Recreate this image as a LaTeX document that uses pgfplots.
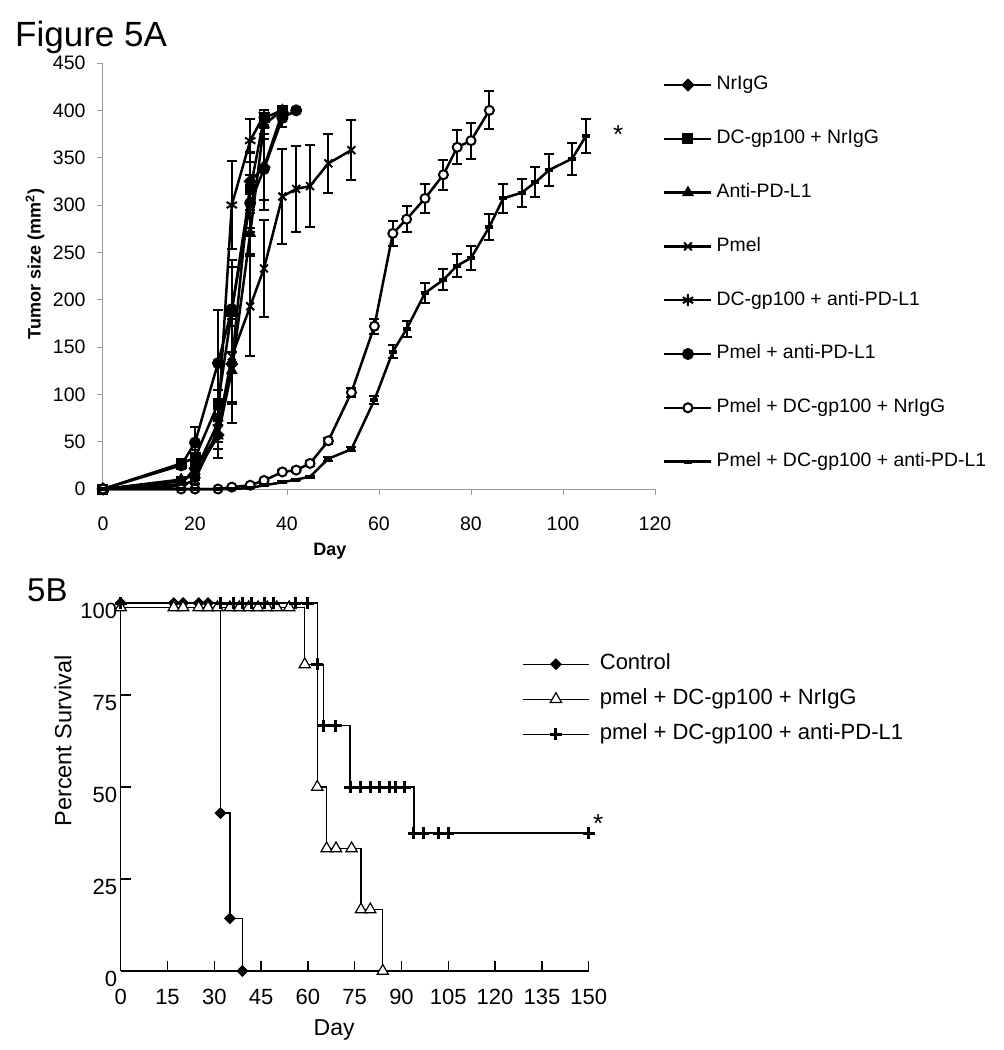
\documentclass[border=0pt]{standalone}
\usepackage{fontspec}
\setmainfont{Liberation Sans}
\usepackage{pgfplots}
\usepackage{pgfplotstable}
\pgfplotsset{compat=1.18}

\newcommand{\fs}[1]{\fontsize{#1}{#1}\selectfont}

% tumour growth, x = day, y = mean size (mm^2), e = error
\pgfplotstableread{
x y e
0 0 0
17 5 2
20 22 6
25 57 15
28 132 40
32 325 30
35 340 35
39 398 5
}\tNrigg
\pgfplotstableread{
x y e
0 0 0
17 27 3
20 33 8
25 90 15
28 188 54
32 316 40
35 392 8
39 400 3
}\tDcNrigg
\pgfplotstableread{
x y e
0 0 0
17 10 3
20 15 5
25 56 23
28 125 55
32 270 22
35 385 15
39 400 5
}\tAnti
\pgfplotstableread{
x y e
0 0 0
17 3 2
20 10 5
25 62 12
28 140 50
32 193 53
35 233 51
39 309 50
42 317 45
45 320 43
49 344 31
54 358 32
}\tPmel
\pgfplotstableread{
x y e
0 0 0
17 8 3
20 18 6
25 70 15
28 300 46
32 368 23
35 395 5
}\tDcAnti
\pgfplotstableread{
x y e
0 0 0
17 25 4
20 49 17
25 133 56
28 190 45
32 302 30
35 338 43
39 392 10
42 400 3
}\tPmelAnti
\pgfplotstableread{
x y e
0 0 0
17 0 1
20 0 1
25 0 1
28 2 1
32 4 1
35 9 2
39 18 2
42 20 2
45 27 3
49 51 3
54 102 5
59 172 8
63 270 13
66 285 14
70 307 15
74 332 16
77 361 18
80 368 19
84 400 20
}\tPmelDcNrigg
\pgfplotstableread{
x y e
0 0 0
17 0 0
20 0 0
25 0 0
28 0 0
32 1 0
35 4 1
39 7 1
42 10 1
45 13 1
49 32 2
54 42 2
59 94 4
63 145 7
66 169 8.5
70 207 10.5
74 221 11
77 236 12
80 244 13
84 277 14
87 307 15
91 313 15
94 324 16
97 337 16.5
102 349 17
105 373 18
}\tPmelDcAnti

% survival, x = day, y = percent
\pgfplotstableread{
x y
0 100
17 100
20 100
25 100
28 100
32 42.9
35 14.3
39 0
}\sControl
\pgfplotstableread{
x y
0 98.8
17 98.8
20 98.8
25 98.8
28 98.8
31 98.8
35 98.8
38 98.8
41 98.8
44 98.8
47 98.8
50 98.8
54 98.8
59 83.3
63 50
66 33.3
69 33.3
74 33.3
77 16.7
80 16.7
84 0
}\sNrigg
\pgfplotstableread{
x y
0 100
32 100
36 100
39 100
42 100
46 100
49 100
56 100
60 100
63 83.3
65 66.7
69 66.7
73.5 50
77 50
80 50
83 50
86 50
88 50
91 50
94 37.5
97 37.5
102 37.5
105 37.5
150 37.5
}\sAnti

\begin{document}
\begin{tikzpicture}[x=1pt,y=1pt]
\path[use as bounding box] (0,0) rectangle (1004,-1050);
\node[anchor=base west, inner sep=0pt, font=\fs{35}] at (15,-46.5) {Figure 5A};
\node[anchor=base west, inner sep=0pt, font=\fs{33}] at (27,-601.5) {5B};

\begin{axis}[
  scale only axis, width=552pt, height=426pt,
  at={(103pt,-489pt)}, anchor=south west,
  xmin=0, xmax=120, ymin=0, ymax=450,
  axis x line*=bottom, axis y line*=left,
  axis line style={draw=black!40, line width=1pt},
  xtick={0,20,...,120}, ytick={0,50,...,450},
  tick align=outside, major tick length=6pt,
  tick style={draw=black!40, line width=1pt},
  ticklabel style={font=\fs{19.5}, black},
  xticklabel style={yshift=-18pt},
  yticklabel style={xshift=-8pt},
  /pgf/number format/assume math mode=true,
  clip=false,
  xlabel={\textbf{Day}},
  xlabel style={font=\fs{18}, at={(axis description cs:0.4112,-0.1455)}, anchor=center},
  ylabel={\textbf{Tumor size (mm\textsuperscript{2})}},
  ylabel style={font=\fs{18}, at={(axis description cs:-0.1232,0.528)}, anchor=center},
  every axis plot/.append style={black, line width=2.5pt},
  error bars/error bar style={line width=2pt, solid},
  error bars/error mark options={rotate=90, line width=2pt, mark size=5pt},
  legend style={at={(1.0145,0.97)}, anchor=north west, draw=none, fill=none,
    font=\fs{19.4}, row sep=35.8pt, inner sep=0pt,
    nodes={inner sep=0pt, inner xsep=4pt, text height=14pt, text depth=4pt},
    cells={anchor=west}},
  legend image code/.code={\draw[mark repeat=2,mark phase=2] plot coordinates {(0pt,0pt)(23.5pt,0pt)(47pt,0pt)};},
]
\addplot[black, mark=square*, mark size=4.2pt, mark options={rotate=45, line width=1pt, fill=black},
  error bars/.cd, y dir=both, y explicit] table[x=x, y=y, y error=e] {\tNrigg};
\addlegendentry{NrIgG}
\addplot[black, mark=square*, mark size=5pt, mark options={line width=1pt, fill=black},
  error bars/.cd, y dir=both, y explicit] table[x=x, y=y, y error=e] {\tDcNrigg};
\addlegendentry{DC-gp100 + NrIgG}
\addplot[black, mark=triangle*, mark size=6pt, mark options={line width=1pt, fill=black},
  error bars/.cd, y dir=both, y explicit] table[x=x, y=y, y error=e] {\tAnti};
\addlegendentry{Anti-PD-L1}
\addplot[black, mark=x, mark size=5.5pt, mark options={line width=2pt},
  error bars/.cd, y dir=both, y explicit] table[x=x, y=y, y error=e] {\tPmel};
\addlegendentry{Pmel}
\addplot[black, mark=asterisk, mark size=6pt, mark options={line width=2pt},
  error bars/.cd, y dir=both, y explicit] table[x=x, y=y, y error=e] {\tDcAnti};
\addlegendentry{DC-gp100 + anti-PD-L1}
\addplot[black, mark=*, mark size=5.5pt, mark options={line width=1pt, fill=black},
  error bars/.cd, y dir=both, y explicit] table[x=x, y=y, y error=e] {\tPmelAnti};
\addlegendentry{Pmel + anti-PD-L1}
\addplot[black, mark=*, mark size=4.5pt, mark options={line width=2pt, fill=white},
  error bars/.cd, y dir=both, y explicit] table[x=x, y=y, y error=e] {\tPmelDcNrigg};
\addlegendentry{Pmel + DC-gp100 + NrIgG}
\addplot[black, mark=-, mark size=4pt, mark options={line width=4pt},
  error bars/.cd, y dir=both, y explicit] table[x=x, y=y, y error=e] {\tPmelDcAnti};
\addlegendentry{Pmel + DC-gp100 + anti-PD-L1}
\node[anchor=base, inner sep=0pt, font=\fs{26}] at (axis cs:112,365) {*};
\end{axis}

\begin{axis}[
  scale only axis, width=468pt, height=368pt,
  at={(120.7pt,-971pt)}, anchor=south west,
  xmin=0, xmax=150, ymin=0, ymax=100,
  axis x line*=bottom, axis y line*=left,
  axis line style={line width=1.3pt},
  xtick={0,15,...,150}, ytick={0,25,...,100},
  tick align=inside, major tick length=10pt,
  tick style={draw=black, line width=1.3pt},
  ticklabel style={font=\fs{22}},
  xticklabel style={yshift=-15pt},
  yticklabel style={yshift=-8pt},
  /pgf/number format/assume math mode=true,
  clip=false,
  xlabel={Day},
  xlabel style={font=\fs{23}, at={(axis description cs:0.456,-0.1603)}, anchor=center},
  ylabel={Percent Survival},
  ylabel style={font=\fs{23.5}, at={(axis description cs:-0.1231,0.625)}, anchor=center},
  every axis plot/.append style={black, line width=1.3pt, const plot mark left},
  legend style={at={(0.857,0.8628)}, anchor=north west, draw=none, fill=none,
    font=\fs{22}, row sep=14pt, inner sep=0pt,
    nodes={inner sep=0pt, inner xsep=10pt, text height=16pt, text depth=5pt},
    cells={anchor=west}},
  legend image code/.code={\draw[mark repeat=2,mark phase=2] plot coordinates {(0pt,0pt)(33.3pt,0pt)(66.6pt,0pt)};},
]
\addplot[black, mark=square*, mark size=3.7pt, mark options={rotate=45, fill=black, line width=1pt}]
  table[x=x, y=y] {\sControl};
\addlegendentry{Control}
\addplot[black, mark=triangle*, mark size=6.5pt, mark options={fill=white, line width=1.2pt}]
  table[x=x, y=y] {\sNrigg};
\addlegendentry{pmel + DC-gp100 + NrIgG}
\addplot[black, mark=+, mark size=6pt, mark options={line width=3pt}]
  table[x=x, y=y] {\sAnti};
\addlegendentry{pmel + DC-gp100 + anti-PD-L1}
\node[anchor=base, inner sep=0pt, font=\fs{26}] at (axis cs:153,37.6) {*};
\end{axis}
\end{tikzpicture}
\end{document}
